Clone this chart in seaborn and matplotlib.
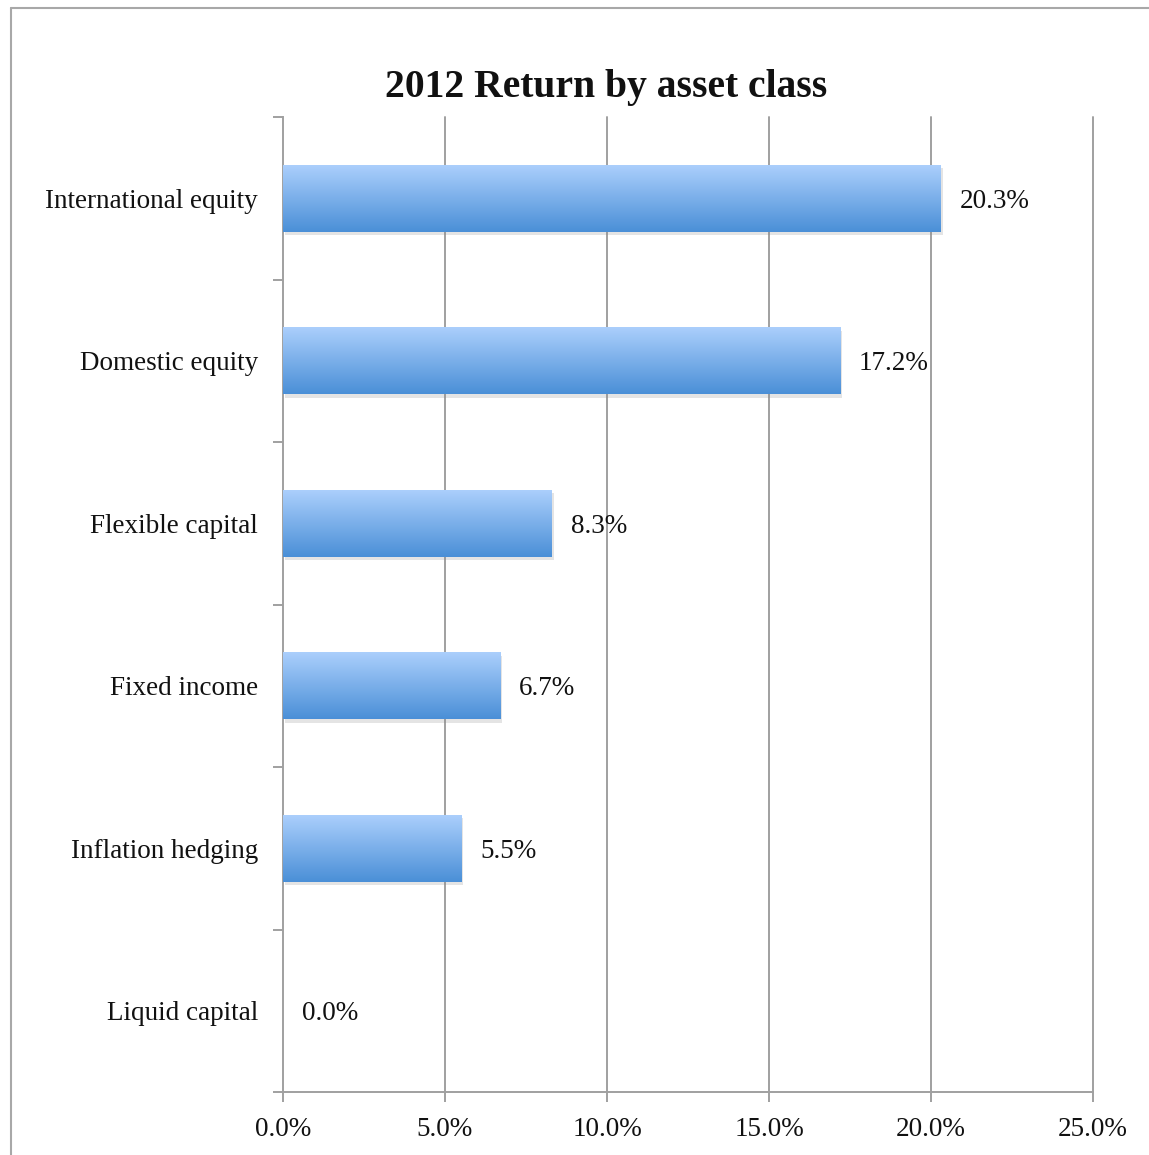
import numpy as np
import pandas as pd
import matplotlib
matplotlib.use("Agg")
import matplotlib.pyplot as plt
import matplotlib.patheffects as pe
from matplotlib.colors import LinearSegmentedColormap
from matplotlib.lines import Line2D
import seaborn as sns

categories = ["International equity", "Domestic equity", "Flexible capital",
              "Fixed income", "Inflation hedging", "Liquid capital"]
returns = [20.3, 17.2, 8.3, 6.7, 5.5, 0.0]
x_ticks = [0, 5, 10, 15, 20, 25]
title = "2012 Return by asset class"

sns.set_theme(style="white")
plt.rcParams["font.family"] = ["Liberation Serif", "DejaVu Serif"]

df = pd.DataFrame({"asset": categories, "ret": returns})

W, H = 1149, 1155
fig = plt.figure(figsize=(W / 100, H / 100), dpi=100)
ax = fig.add_axes([283 / W, 1 - 1092 / H, (1093 - 283) / W, (1092 - 117) / H])

grid_col = "#a0a0a0"
label_size = 19.5
sns.barplot(data=df, y="asset", x="ret", orient="h", ax=ax, width=0.41,
            color="#6fa6e6", saturation=1, zorder=3)

ax.set_xlim(0, 25)
ax.set_ylim(len(categories) - 0.5, -0.5)
ax.set_xticks(x_ticks)
ax.set_xticklabels([f"{v:.1f}%" for v in x_ticks])
ax.set_xlabel("")
ax.set_ylabel("")

# vertical gridlines
for v in x_ticks[1:]:
    ax.axvline(v, color=grid_col, lw=1.4, zorder=1, clip_on=False)

# gradient fill + soft shadow on every bar
cmap = LinearSegmentedColormap.from_list("barfill", ["#abcffc", "#4a8fd7"])
grad = np.linspace(0, 1, 256).reshape(-1, 1)
for bar, val in zip(ax.patches, returns):
    bar.set_path_effects([pe.SimplePatchShadow(offset=(1.5, -2.5), shadow_rgbFace="#888888", alpha=0.22),
                          pe.Normal()])
    bar.set_edgecolor("none")
    x0, y0 = bar.get_x(), bar.get_y()
    w, h = bar.get_width(), bar.get_height()
    if w > 0:
        im = ax.imshow(grad, cmap=cmap, aspect="auto", interpolation="bicubic",
                       extent=(x0, x0 + w, y0 + h, y0), zorder=4)
        im.set_clip_path(bar)
    ax.text(x0 + w + 0.58, y0 + h / 2, f"{val:.1f}%", ha="left", va="center_baseline",
            fontsize=label_size, color="#111111", zorder=5)

ax.set_ylim(len(categories) - 0.5, -0.5)
ax.set_xlim(0, 25)

# axes styling
for side in ["top", "right"]:
    ax.spines[side].set_visible(False)
for side in ["left", "bottom"]:
    ax.spines[side].set_color(grid_col)
    ax.spines[side].set_linewidth(1.4)
    ax.spines[side].set_zorder(2)

ax.tick_params(axis="x", which="major", length=7, width=1.4, color=grid_col,
               direction="out", pad=11, labelsize=label_size, labelcolor="#111111", bottom=True)
ax.tick_params(axis="y", which="major", length=0, pad=18, labelsize=label_size,
               labelcolor="#111111", left=True)
ax.set_yticks(np.arange(-0.5, len(categories), 1.0), minor=True)
ax.tick_params(axis="y", which="minor", length=7, width=1.4, color=grid_col, direction="out", left=True)
for lbl in ax.get_yticklabels():
    lbl.set_verticalalignment("center_baseline")
ax.set_facecolor("white")

fig.text(606 / W, 1 - 88 / H, title, ha="center", va="center", fontsize=28.5,
         fontweight="bold", color="#111111")

# outer chart frame (left and top edges)
fig.add_artist(Line2D([11 / W, 11 / W], [0, 1 - 8 / H], transform=fig.transFigure,
                      color="#a8a8a8", lw=1.5))
fig.add_artist(Line2D([11 / W, 1], [1 - 8 / H, 1 - 8 / H], transform=fig.transFigure,
                      color="#a8a8a8", lw=1.5))

fig.savefig("out.png", dpi=100, facecolor="white")
